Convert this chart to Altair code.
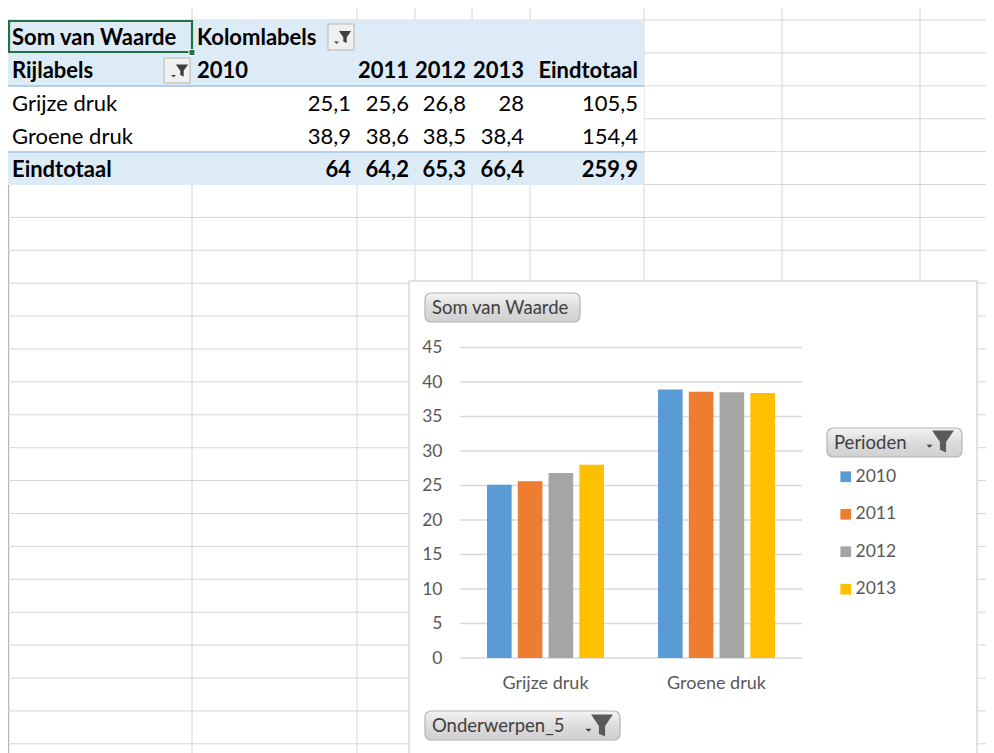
import altair as alt
import pandas as pd

# ---------------- data ----------------
categories = ["Grijze druk", "Groene druk"]
years = ["2010", "2011", "2012", "2013"]
grijze_druk = [25.1, 25.6, 26.8, 28]
groene_druk = [38.9, 38.6, 38.5, 38.4]
row_totals = [105.5, 154.4]
col_totals = [64, 64.2, 65.3, 66.4]
grand_total = 259.9
y_ticks = [0, 5, 10, 15, 20, 25, 30, 35, 40, 45]
year_colors = ["#5B9BD5", "#ED7D31", "#A5A5A5", "#FFC000"]

# ---------------- layout (page pixels) ----------------
W, H = 978, 745
OX, OY = 8, 8
col_edges = [192, 357, 415, 472, 530, 644, 782, 920]
row_lines = [20 + i * 32.9 for i in range(23)]
row_mid = [38, 71, 103.5, 136.5, 169.5]
num_right = [351, 409, 466, 524, 638]
PLOT_X = [460 - OX, 802 - OX]
PLOT_Y = [658 - OY, 347.5 - OY]
FONT = "Lato"

FUNNEL = "M-1,-1 L1,-1 L0.28,0.05 L0.28,1 L-0.28,0.75 L-0.28,0.05 Z"
ARROW = "M-1,-0.4 L1,-0.4 L0,0.6 Z"


def sx():
    return alt.Scale(domain=[OX, OX + W], range=[0, W], nice=False, zero=False)


def sy():
    return alt.Scale(domain=[OY, OY + H], range=[0, H], nice=False, zero=False)


def fmt(v):
    return f"{v:g}".replace(".", ",")


# ---- spreadsheet grid ----
grid_v = alt.Chart(pd.DataFrame({"x": col_edges})).mark_rule(color="#D6D6D6").encode(
    x=alt.X("x:Q", scale=sx(), axis=None), y=alt.value(0), y2=alt.value(H))
edge_v = alt.Chart(pd.DataFrame({"x": [8.5]})).mark_rule(color="#B8B8B8", strokeWidth=1.5).encode(
    x=alt.X("x:Q", scale=sx(), axis=None), y=alt.value(12), y2=alt.value(H))
grid_h = alt.Chart(pd.DataFrame({"y": row_lines})).mark_rule(color="#D6D6D6").encode(
    y=alt.Y("y:Q", scale=sy(), axis=None), x=alt.value(0), x2=alt.value(W))

# ---- pivot table background ----
fills = pd.DataFrame({
    "x0": [8, 8, 8], "x1": [644, 644, 644],
    "y0": [20, 86, 152], "y1": [86, 152, 185],
    "fill": ["#DDEBF7", "#FFFFFF", "#DDEBF7"],
})
table_fill = alt.Chart(fills).mark_rect().encode(
    x=alt.X("x0:Q", scale=sx(), axis=None), x2="x1:Q",
    y=alt.Y("y0:Q", scale=sy(), axis=None), y2="y1:Q",
    color=alt.Color("fill:N", scale=None))
table_lines = alt.Chart(pd.DataFrame({"y": [86, 152]})).mark_rule(color="#9BC2E6", strokeWidth=1.5).encode(
    y=alt.Y("y:Q", scale=sy(), axis=None), x=alt.value(0), x2=alt.value(636))
active = alt.Chart(pd.DataFrame({"x0": [9], "x1": [192], "y0": [21], "y1": [52]})).mark_rect(
    fillOpacity=0, stroke="#217346", strokeWidth=2.2).encode(
    x=alt.X("x0:Q", scale=sx(), axis=None), x2="x1:Q",
    y=alt.Y("y0:Q", scale=sy(), axis=None), y2="y1:Q")
handle = alt.Chart(pd.DataFrame({"x": [192], "y": [52.5]})).mark_square(
    size=36, color="#217346", opacity=1, stroke="white", strokeWidth=1).encode(
    x=alt.X("x:Q", scale=sx(), axis=None), y=alt.Y("y:Q", scale=sy(), axis=None))

# ---- pivot table text ----
cells = []
cells.append(("Som van Waarde", 12, row_mid[0], "left", "bold"))
cells.append(("Kolomlabels", 197, row_mid[0], "left", "bold"))
cells.append(("Rijlabels", 12, row_mid[1], "left", "bold"))
cells.append((years[0], 197, row_mid[1], "left", "bold"))
for i, yr in enumerate(years[1:]):
    cells.append((yr, num_right[i + 1], row_mid[1], "right", "bold"))
cells.append(("Eindtotaal", num_right[4], row_mid[1], "right", "bold"))
for r, (cat, vals) in enumerate(zip(categories, [grijze_druk, groene_druk])):
    cells.append((cat, 12, row_mid[2 + r], "left", "normal"))
    for i, v in enumerate(vals):
        cells.append((fmt(v), num_right[i], row_mid[2 + r], "right", "normal"))
    cells.append((fmt(row_totals[r]), num_right[4], row_mid[2 + r], "right", "normal"))
cells.append(("Eindtotaal", 12, row_mid[4], "left", "bold"))
for i, v in enumerate(col_totals):
    cells.append((fmt(v), num_right[i], row_mid[4], "right", "bold"))
cells.append((fmt(grand_total), num_right[4], row_mid[4], "right", "bold"))
cells_df = pd.DataFrame(cells, columns=["text", "x", "y", "align", "weight"])

text_layers = []
for al in ["left", "right"]:
    for wt in ["bold", "normal"]:
        text_layers.append(
            alt.Chart(cells_df).transform_filter(
                (alt.datum.align == al) & (alt.datum.weight == wt)
            ).mark_text(align=al, baseline="middle", fontSize=22, fontWeight=wt,
                        color="#000000", font=FONT).encode(
                x=alt.X("x:Q", scale=sx(), axis=None),
                y=alt.Y("y:Q", scale=sy(), axis=None),
                text="text:N"))

# ---- small filter buttons in the table ----
tbtn = pd.DataFrame({"x0": [328, 164], "x1": [354, 190], "y0": [24, 58], "y1": [50, 83]})
table_btn = alt.Chart(tbtn).mark_rect(fill="#F0F0F0", stroke="#B5B5B5", strokeWidth=1).encode(
    x=alt.X("x0:Q", scale=sx(), axis=None), x2="x1:Q",
    y=alt.Y("y0:Q", scale=sy(), axis=None), y2="y1:Q")
tfun = alt.Chart(pd.DataFrame({"x": [345, 182], "y": [37, 70.5]})).mark_point(
    shape=FUNNEL, filled=True, size=150, color="#404040", opacity=1).encode(
    x=alt.X("x:Q", scale=sx(), axis=None), y=alt.Y("y:Q", scale=sy(), axis=None))
tarr = alt.Chart(pd.DataFrame({"x": [336.5, 173.5], "y": [42.5, 76]})).mark_point(
    shape=ARROW, filled=True, size=25, color="#404040", opacity=1).encode(
    x=alt.X("x:Q", scale=sx(), axis=None), y=alt.Y("y:Q", scale=sy(), axis=None))

# ---- chart panel ----
panel = alt.Chart(pd.DataFrame({"x0": [409], "x1": [977], "y0": [281], "y1": [790]})).mark_rect(
    fill="#FFFFFF", stroke="#D9D9D9", strokeWidth=1.5).encode(
    x=alt.X("x0:Q", scale=sx(), axis=None), x2="x1:Q",
    y=alt.Y("y0:Q", scale=sy(), axis=None), y2="y1:Q")

btn_grad = alt.LinearGradient(
    gradient="linear",
    stops=[alt.GradientStop(color="#F4F4F4", offset=0),
           alt.GradientStop(color="#DCDCDC", offset=0.5),
           alt.GradientStop(color="#D0D0D0", offset=1)],
    x1=0, x2=0, y1=0, y2=1)
buttons = pd.DataFrame({
    "label": ["Som van Waarde", "Perioden", "Onderwerpen_5"],
    "x0": [425, 827, 425], "x1": [580, 962, 620],
    "y0": [293, 428, 711], "y1": [322, 457, 740],
    "tx": [432, 834, 432], "ty": [307.5, 442.5, 725.5],
})
btn_rect = alt.Chart(buttons).mark_rect(fill=btn_grad, stroke="#B4B4B4", strokeWidth=1.2,
                                        cornerRadius=6).encode(
    x=alt.X("x0:Q", scale=sx(), axis=None), x2="x1:Q",
    y=alt.Y("y0:Q", scale=sy(), axis=None), y2="y1:Q")
btn_text = alt.Chart(buttons).mark_text(align="left", baseline="middle", fontSize=18.5,
                                        color="#404040", font=FONT).encode(
    x=alt.X("tx:Q", scale=sx(), axis=None), y=alt.Y("ty:Q", scale=sy(), axis=None),
    text="label:N")
cfun = alt.Chart(pd.DataFrame({"x": [943, 602], "y": [441.5, 725.5]})).mark_point(
    shape=FUNNEL, filled=True, size=480, color="#5A5A5A", opacity=1).encode(
    x=alt.X("x:Q", scale=sx(), axis=None), y=alt.Y("y:Q", scale=sy(), axis=None))
carr = alt.Chart(pd.DataFrame({"x": [929.5, 588.5], "y": [446, 730]})).mark_point(
    shape=ARROW, filled=True, size=36, color="#404040", opacity=1).encode(
    x=alt.X("x:Q", scale=sx(), axis=None), y=alt.Y("y:Q", scale=sy(), axis=None))

# ---- clustered bar chart ----
rows = []
for cat, vals in zip(categories, [grijze_druk, groene_druk]):
    for yr, v in zip(years, vals):
        rows.append({"Onderwerpen_5": cat, "Perioden": yr, "Waarde": v})
bars_df = pd.DataFrame(rows)

yscale = alt.Scale(domain=[0, 45], range=PLOT_Y, nice=False, zero=True)

gridlines = alt.Chart(pd.DataFrame({"t": y_ticks})).mark_rule(color="#D9D9D9", strokeWidth=1.3).encode(
    y=alt.Y("t:Q", scale=yscale, axis=None),
    x=alt.value(PLOT_X[0]), x2=alt.value(PLOT_X[1]))

bars = alt.Chart(bars_df).mark_bar().encode(
    x=alt.X("Onderwerpen_5:N",
            scale=alt.Scale(domain=categories, range=PLOT_X, paddingInner=0.316, paddingOuter=0.158),
            axis=alt.Axis(orient="bottom", offset=-(H - PLOT_Y[0]), title=None, domain=False,
                          ticks=False, labelAngle=0, labelPadding=16, labelFontSize=18,
                          labelColor="#595959", labelFont=FONT, zindex=1)),
    xOffset=alt.XOffset("Perioden:N",
                        scale=alt.Scale(domain=years, paddingInner=0.2, paddingOuter=0)),
    y=alt.Y("Waarde:Q", scale=yscale,
            axis=alt.Axis(orient="left", offset=-PLOT_X[0], title=None, grid=False, domain=False,
                          ticks=False, values=y_ticks, labelPadding=18, labelFontSize=17.5,
                          labelColor="#595959", labelFont=FONT, zindex=1)),
    color=alt.Color("Perioden:N", scale=alt.Scale(domain=years, range=year_colors),
                    legend=alt.Legend(orient="none", legendX=829, legendY=460, title=None,
                                      symbolType="square", symbolSize=115, symbolStrokeWidth=0,
                                      labelFontSize=17.5, labelColor="#595959", labelFont=FONT,
                                      rowPadding=18.5, labelOffset=1, padding=0, zindex=1)),
)

chart = alt.layer(
    grid_v, edge_v, grid_h,
    table_fill, table_lines, active, handle,
    *text_layers,
    table_btn, tfun, tarr,
    panel, btn_rect, btn_text, cfun, carr,
    gridlines, bars,
).resolve_scale(
    x="independent", y="independent", color="independent"
).properties(
    width=W, height=H, padding=0, autosize=alt.AutoSizeParams(type="none"),
).configure(font=FONT).configure_view(stroke=None)

chart.save("out.html", embed_options={"renderer": "svg", "actions": False})
